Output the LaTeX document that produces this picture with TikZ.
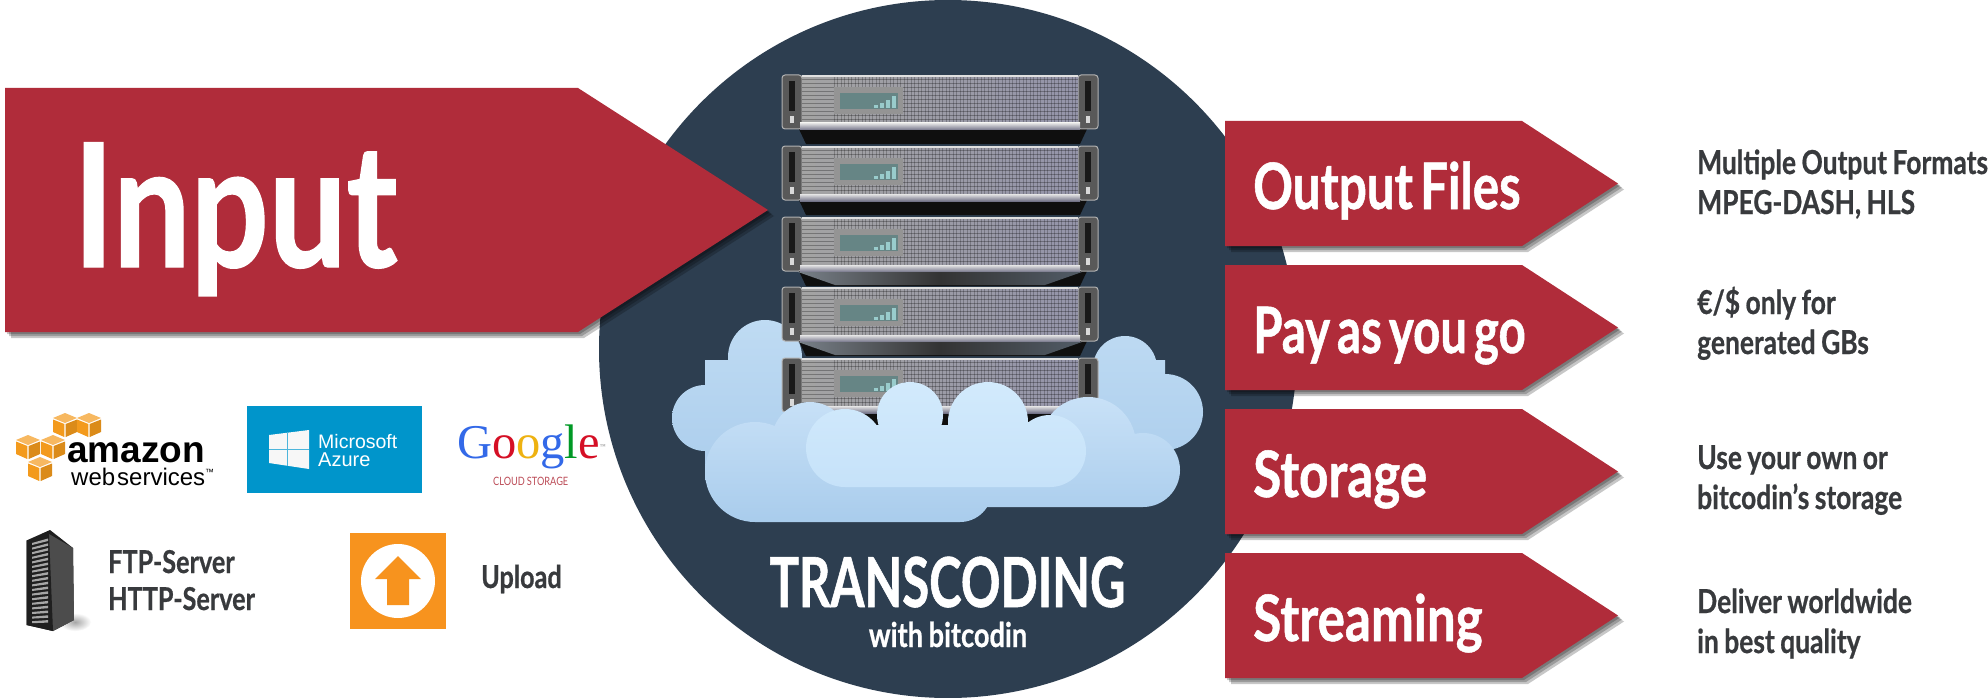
\documentclass[tikz,border=0pt]{standalone}
\usepackage{fontspec}
\usepackage{tikz}
\newfontfamily\dosis[FakeStretch=0.8,WordSpace=0.6,BoldFeatures={FakeBold=0.8}]{Lato}
\newfontfamily\dosisside[FakeStretch=0.8,WordSpace=0.85,BoldFeatures={FakeBold=0.6}]{Lato}
\newfontfamily\dosisnarrow[FakeStretch=0.71,BoldFeatures={FakeBold=0.8}]{Lato}
\newfontfamily\plainsans{Liberation Sans}
\newfontfamily\plainserif{Liberation Serif}
\definecolor{ribbonred}{HTML}{B02C3A}
\definecolor{circleblue}{HTML}{2D3E50}
\definecolor{greytext}{HTML}{383A3D}
\definecolor{azureblue}{HTML}{0095CB}
\definecolor{upload}{HTML}{F7931E}
\definecolor{awsorange}{HTML}{F39A1C}
\definecolor{shadegrey}{HTML}{3F4A56}
\definecolor{cloudbacktop}{HTML}{BFDBF3}
\definecolor{cloudbackbot}{HTML}{ABCDEC}
\definecolor{cloudmidtop}{HTML}{C8E1F7}
\definecolor{cloudmidbot}{HTML}{A9CCEC}
\definecolor{cloudfronttop}{HTML}{D2EAFC}
\definecolor{cloudfrontbot}{HTML}{C6E2F9}
\tikzset{
	serverunit/.pic={
		\fill[black!94] (16,54) -- (306,54) -- (298,71) -- (24,71) -- cycle;
		\foreach \hx in {0,296} {
			\fill[rounded corners=3pt,fill=black!65,draw=black!30,line width=1pt] (\hx,2) rectangle ++(20,54);
			\fill[black!90] (\hx+7,8) rectangle ++(6,30);
			\fill[black!15] (\hx+8,43) rectangle ++(4,7);
		}
		\shade[left color=black!36,right color=blue!20!black!42] (20,3) rectangle (296,50);
		\foreach \gx in {52,55.5,...,296} {\draw[black,opacity=.22,line width=.9pt] (\gx,3) -- (\gx,50);}
		\foreach \gy in {6,10,...,50} {\draw[black,opacity=.28,line width=.9pt] (20,\gy) -- (296,\gy);}
		\shade[top color=black!10,bottom color=blue!15!black!55] (18,50) rectangle (298,57);
		\fill[black!12] (20,2) rectangle (296,4);
		\fill[black!42] (52,14) rectangle (121,41);
		\fill[teal!40!black!60] (58,20) rectangle (116,36);
		\foreach \bx/\bh in {92/3,98/5,104/8,110/12} {\fill[teal!40!white] (\bx,35) rectangle ++(4,-\bh);}
	},
	awscube/.pic={
		\fill[awsorange!70!white] (0,5) -- (12,0) -- (24,5) -- (12,10) -- cycle;
		\fill[awsorange] (0,6.5) -- (11.3,11) -- (11.3,24) -- (0,19) -- cycle;
		\fill[awsorange!90!black] (24,6.5) -- (12.7,11) -- (12.7,24) -- (24,19) -- cycle;
	}
}
\begin{document}
\begin{tikzpicture}[
		x=1pt, y=-1pt,
		ribbon/.style={fill=ribbonred},
		ribbonshadow/.style={fill=black,opacity=.22},
		bigtext/.style={anchor=base west, inner sep=0pt, text=white, font=\dosis\bfseries\fontsize{172}{172}\selectfont},
		ribbontext/.style={anchor=base west, inner sep=0pt, text=white, font=\dosis\bfseries\fontsize{64}{64}\selectfont},
		sidetext/.style={anchor=base west, inner sep=0pt, text=greytext, align=left, font=\dosisside\bfseries\fontsize{33}{40}\selectfont},
		logotext/.style={anchor=base west, inner sep=0pt, text=greytext, align=left, font=\dosisside\bfseries\fontsize{31.5}{37}\selectfont}
	]
	\fill[white] (0,0) rectangle (1988,698);
	\path[use as bounding box] (0,0) rectangle (1988,698);
	\fill[circleblue] (948,349) circle [radius=349pt];

	\shade[top color=cloudbacktop,bottom color=cloudbackbot]
		(705,418) circle [radius=33pt] (765,357) circle [radius=37pt] (1125,368) circle [radius=32pt] (1165,412) circle [radius=38pt]
		(705,360) rectangle (1165,480);

	\foreach \uy/\us in {0/0,71/1,142/2,212/3,283/4} {
		\pic at (782,73+\uy) {serverunit};
	}
	\foreach \uy in {215,285} {
		\shade[left color=shadegrey!70,right color=shadegrey!90,middle color=black!80] (798,\uy+57) -- (1082,\uy+57) -- (1045,\uy+70) -- (835,\uy+70) -- cycle;
	}

	\shade[top color=cloudmidtop,bottom color=cloudmidbot]
		(755,472) circle [radius=50pt] (810,440) circle [radius=38pt] (1088,445) circle [radius=48pt] (1143,470) circle [radius=37pt]
		(960,490) circle [radius=32pt]
		(755,440) rectangle (1143,507) (755,480) rectangle (960,522);
	\shade[top color=cloudfronttop,bottom color=cloudfrontbot]
		(845,448) circle [radius=39pt] (910,415) circle [radius=33pt] (988,422) circle [radius=40pt] (1050,451) circle [radius=36pt]
		(845,425) rectangle (1050,487);

	\foreach \ss in {2,4,6} {
		\fill[ribbonshadow] (5+\ss,88+\ss) -- (578+\ss,88+\ss) -- (768+\ss,210+\ss) -- (578+\ss,332+\ss) -- (5+\ss,332+\ss) -- cycle;
	}
	\fill[ribbon] (5,88) -- (578,88) -- (768,210) -- (578,332) -- (5,332) -- cycle;
	\node[bigtext] (input) at (73,267) {Input};

	\foreach \ry/\rname/\rlabel/\rfit/\sname/\sy/\slabel in {
		121/output/Output Files/0.77/formats/214/{Multiple Output Formats\\MPEG-DASH, HLS},
		265/pay/Pay as you go/0.74/price/354/{€/\$ only for\\generated GBs},
		409/storage/Storage/0.8/own/509/{Use your own or\\bitcodin’s storage},
		553/streaming/Streaming/0.8/deliver/653/{Deliver worldwide\\in best quality}} {
		\foreach \ss in {2,4,6} {
			\fill[ribbonshadow] (1225+\ss,\ry+\ss) -- (1522+\ss,\ry+\ss) -- (1618+\ss,\ry+62.5+\ss) -- (1522+\ss,\ry+125+\ss) -- (1225+\ss,\ry+125+\ss) -- cycle;
		}
		\fill[ribbon] (1225,\ry) -- (1522,\ry) -- (1618,\ry+62.5) -- (1522,\ry+125) -- (1225,\ry+125) -- cycle;
		\node[ribbontext] (\rname) at (1253,\ry+88) {\addfontfeature{FakeStretch=\rfit}\rlabel};
		\node[sidetext] (\sname) at (1697,\sy) {\slabel};
	}

	\node[anchor=base, inner sep=0pt, text=white, font=\dosisnarrow\bfseries\fontsize{69}{69}\selectfont] (transcoding) at (947.5,607) {TRANSCODING};
	\node[anchor=base, inner sep=0pt, text=white, font=\dosisside\bfseries\fontsize{34}{34}\selectfont] (withbitcodin) at (948,647) {with bitcodin};

	\foreach \cx/\cy in {53/413,77/413,16/435,41/435,28/457} {
		\pic at (\cx,\cy) {awscube};
	}
	\node[anchor=base west, inner sep=0pt, font=\plainsans\bfseries\fontsize{37}{37}\selectfont] (amazon) at (67,462) {amazon};
	\node[anchor=base west, inner sep=0pt, font=\plainsans\fontsize{24}{24}\selectfont] (webservices) at (71,485) {web\hspace{2pt}services\textsuperscript{\fontsize{9}{9}\selectfont ™}};

	\fill[azureblue] (246.5,406) rectangle (421.5,493);
	\fill[black!3!white] (269,435) -- (309,430) -- (309,469) -- (269,463) -- cycle;
	\draw[azureblue!70!white,line width=.8pt] (287,432.5) -- (287,466) (269,449) -- (309,449);
	\node[anchor=base west, inner sep=0pt, text=white, font=\plainsans\fontsize{19.5}{19.5}\selectfont] (microsoft) at (318,448) {Microsoft};
	\node[anchor=base west, inner sep=0pt, text=white, font=\plainsans\fontsize{20}{20}\selectfont] (azure) at (318,466) {Azure};

	\node[anchor=base west, inner sep=0pt, font=\plainserif\fontsize{48.5}{48.5}\selectfont] (google) at (457,458) {\textcolor[HTML]{3369E8}{G}\textcolor[HTML]{D50F25}{o}\textcolor[HTML]{EEB211}{o}\textcolor[HTML]{3369E8}{g}\textcolor[HTML]{009925}{l}\textcolor[HTML]{D50F25}{e}\textsuperscript{\fontsize{6}{6}\selectfont\textcolor{black!50}{™}}};
	\node[anchor=base west, inner sep=0pt, text=ribbonred!85!white, font=\dosis\fontsize{11.5}{11.5}\selectfont] (cloudstorage) at (493,485) {CLOUD STORAGE};

	\shade[inner color=black!35,outer color=white] (75,622) ellipse [x radius=16pt, y radius=9pt];
	\fill[black!88] (26.5,540.5) -- (50,530) -- (73,548) -- (74,620) -- (53,631) -- (26.5,625) -- cycle;
	\fill[black!70] (49,534) -- (49,630) -- (53,631) -- (74,620) -- (73,548) -- cycle;
	\fill[black!88] (49,534) -- (26.5,540.5) -- (26.5,625) -- (53,631) -- cycle;
	\foreach \ky in {0,1,...,17} {
		\fill[black!35] (32,543+\ky*4.6) -- (48,538.5+\ky*4.8) -- (48,541+\ky*4.8) -- (32,545+\ky*4.6) -- cycle;
	}
	\node[logotext] (ftp) at (108,610) {FTP-Server\\HTTP-Server};

	\fill[upload] (350,533) rectangle (446,629);
	\fill[white] (398,581) circle [radius=37pt];
	\fill[upload] (398,556) -- (421,579) -- (409,579) -- (409,605) -- (387,605) -- (387,579) -- (375,579) -- cycle;
	\node[logotext] (uploadlabel) at (481,588) {Upload};
\end{tikzpicture}
\end{document}
